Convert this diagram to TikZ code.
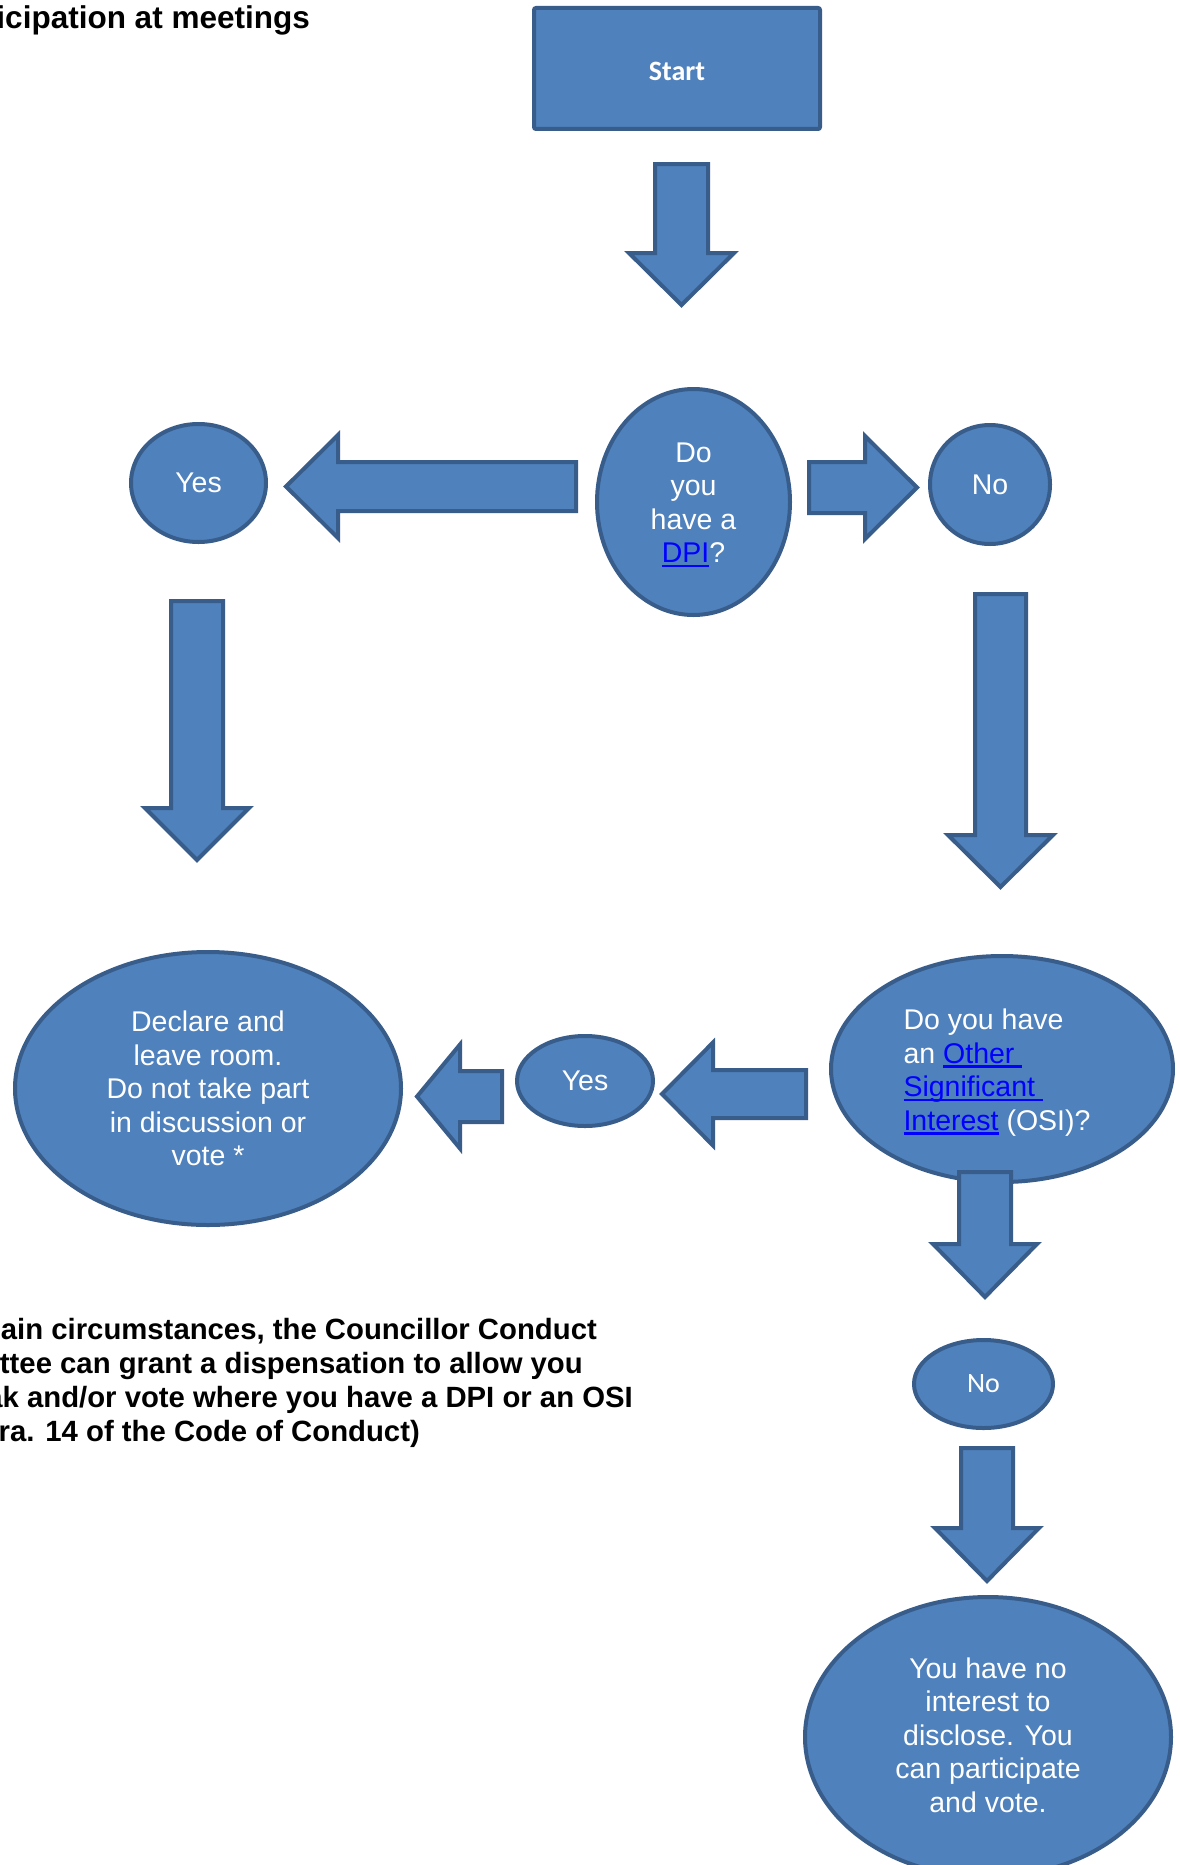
\documentclass[tikz,border=0pt]{standalone}
\usepackage{fontspec}
\setmainfont{Liberation Sans}
\newfontfamily\calibri{Carlito}
\usetikzlibrary{shapes.geometric}
\definecolor{boxfill}{HTML}{4F81BD}
\definecolor{boxline}{HTML}{385D8A}
\definecolor{linkblue}{HTML}{0000FF}
\newcommand\lnk[1]{\textcolor{linkblue}{\setbox0\hbox{#1}\rlap{\rule[-4.5pt]{\wd0}{2.2pt}}\box0}}
% block arrow down: cx, top, head y, tip y, shaft half, head half (outer extents)
\newcommand\bdown[6]{\draw[blk] ({#1-#5+2},{#2+2}) -- ({#1+#5-2},{#2+2}) -- ({#1+#5-2},#3) -- ({#1+#6-4},#3) -- (#1,{#4-3}) -- ({#1-#6+4},#3) -- ({#1-#5+2},#3) -- cycle;}
% block arrow horizontal: cy, tail x, head base x, tip x, shaft half, head half (outer extents)
\newcommand\bhoriz[6]{\pgfmathsetmacro\adir{sign(#4-#3)}%
\draw[blk] ({#2+2*\adir},{#1-#5+2}) -- (#3,{#1-#5+2}) -- (#3,{#1-#6+4}) -- ({#4-3*\adir},#1) -- (#3,{#1+#6-4}) -- (#3,{#1+#5-2}) -- ({#2+2*\adir},{#1+#5-2}) -- cycle;}
\begin{document}
\begin{tikzpicture}[x=1pt,y=-1pt,
  shapebox/.style={draw=boxline, fill=boxfill, line width=4pt, text=white, inner sep=0pt,
    font=\fontsize{28.5}{33.5}\selectfont, align=center},
  oval/.style={shapebox, ellipse},
  blk/.style={draw=boxline, fill=boxfill, line width=4pt, line join=miter},
  note/.style={anchor=base east, inner sep=0pt, text=black}]
\useasboundingbox (0,0) rectangle (1179,1865);
\begin{scope}
\clip (0,0) rectangle (1179,1865);
\fill[white] (0,0) rectangle (1179,1865);

% title (cut at left edge)
\node[note, font=\bfseries\fontsize{31.5}{36}\selectfont] (title) at (310,29) {icipation at meetings};

% shapes
\node[shapebox, rectangle, rounded corners=2pt, minimum width=286, minimum height=121] (start) at (677,68.5) {};
\node[text=white, inner sep=0pt, font=\calibri\bfseries\fontsize{28}{33}\selectfont] (starttext) at (677,71) {Start};
\node[oval, minimum width=193, minimum height=226] (dpi) at (693.5,502) {};
\node[text=white, inner sep=0pt, align=center, font=\fontsize{28.5}{33.5}\selectfont] (dpitext) at (693.5,505)
  {Do\\you\\have a\\\lnk{DPI}?};
\node[oval, minimum width=120, minimum height=119] (no1) at (990,484.5) {No};
\node[oval, minimum width=135, minimum height=118] (yes1) at (198.5,483) {Yes};
\node[oval, minimum width=386, minimum height=273] (declare) at (208,1088.5)
  {Declare and\\leave room.\\Do not take part\\in discussion or\\vote *};
\node[oval, minimum width=342, minimum height=226] (osi) at (1002,1069) {};
\node[text=white, inner sep=0pt, align=left, font=\fontsize{28.5}{33.5}\selectfont] (ositext) at (997,1072.5)
  {Do you have\\an \lnk{Other }\\\lnk{Significant }\\\lnk{Interest} (OSI)?};
\node[oval, minimum width=136, minimum height=90] (yes2) at (585,1081) {Yes};
\node[oval, minimum width=139, minimum height=88, font=\calibri\fontsize{28}{33}\selectfont] (no2) at (983.5,1384) {No};
\node[oval, minimum width=366, minimum height=280] (final) at (988,1737) {};
\node[text=white, inner sep=0pt, align=center, font=\fontsize{28.5}{33.5}\selectfont] (finaltext) at (988,1735)
  {You have no\\interest to\\disclose. You\\can participate\\and vote.};

% block arrows
\bdown{681.5}{162}{253}{308}{28.5}{56.5}
\bhoriz{487.5}{807}{865}{920}{27.5}{55.5}
\bhoriz{486.5}{578}{338}{283}{26.5}{55.5}
\bdown{197}{599}{808}{863}{28}{56}
\bdown{1000.5}{592}{835}{890}{27.5}{56.5}
\bhoriz{1094}{808}{713}{659}{26}{55.5}
\bhoriz{1096.5}{504}{460}{414}{27.5}{56}
\bdown{985}{1170}{1244}{1300}{28}{56}
\bdown{987}{1446}{1528}{1584}{28}{56}

% footnote (cut at left edge)
\begin{scope}[every node/.style={note, font=\bfseries\fontsize{29.3}{34}\selectfont}]
\node (fn1) at (597,1339) {ain circumstances, the Councillor Conduct};
\node (fn2) at (583,1373.5) {ttee can grant a dispensation to allow you};
\node (fn3) at (633,1407) {ak and/or vote where you have a DPI or an OSI};
\node (fn4) at (420,1441.5) {ara. 14 of the Code of Conduct)};
\end{scope}
\end{scope}
\end{tikzpicture}
\end{document}
